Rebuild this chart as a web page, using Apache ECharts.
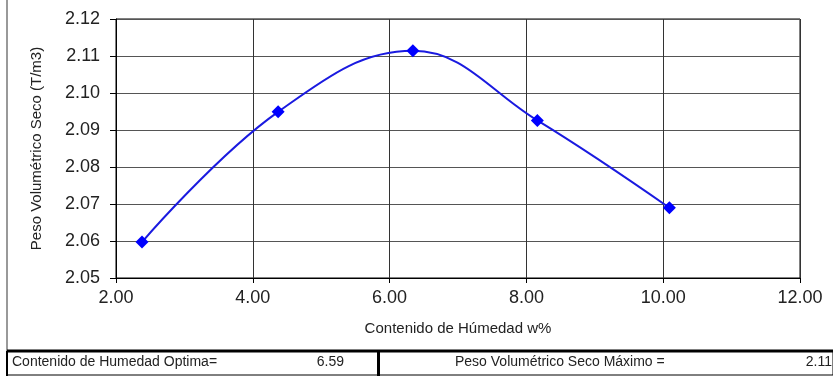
<!DOCTYPE html>
<html>
<head>
<meta charset="utf-8">
<script src="https://cdn.jsdelivr.net/npm/echarts@6/dist/echarts.min.js"></script>
<style>
html,body{margin:0;padding:0;background:#fff;}
#chart{width:833px;height:376px;}
</style>
</head>
<body>
<div id="chart"></div>
<script>
// Data
var humedad = [2.38, 4.37, 6.34, 8.16, 10.09];
var pesoSeco = [2.0597, 2.0949, 2.1114, 2.0926, 2.0690];
var xTicks = [2, 4, 6, 8, 10, 12];
var yTicks = [2.05, 2.06, 2.07, 2.08, 2.09, 2.10, 2.11, 2.12];
var tableLabels = ['Contenido de Humedad Optima=', 'Peso Volumétrico Seco Máximo ='];
var tableValues = ['6.59', '2.11'];

var FONT = '"Liberation Sans", Arial, sans-serif';
var chart = echarts.init(document.getElementById('chart'), null, {renderer: 'canvas'});

var points = humedad.map(function (x, i) { return [x, pesoSeco[i]]; });

chart.setOption({
  animation: false,
  backgroundColor: '#fff',
  grid: {left: 116, right: 33, top: 19, bottom: 98, show: true, borderColor: '#000', borderWidth: 1},
  xAxis: {
    type: 'value',
    min: xTicks[0], max: xTicks[xTicks.length - 1], interval: 2,
    name: 'Contenido de Húmedad w%',
    nameLocation: 'middle', nameGap: 43,
    nameTextStyle: {fontFamily: FONT, fontSize: 15, color: '#222'},
    axisLine: {show: true, lineStyle: {color: '#000', width: 1}},
    axisTick: {show: true, length: 5, lineStyle: {color: '#000'}},
    axisLabel: {fontFamily: FONT, fontSize: 18, color: '#222', margin: 11,
      formatter: function (v) { return v.toFixed(2); }},
    splitLine: {show: true, lineStyle: {color: '#333', width: 1}}
  },
  yAxis: {
    type: 'value',
    min: yTicks[0], max: yTicks[yTicks.length - 1], interval: 0.01,
    name: 'Peso Volumétrico Seco (T/m3)',
    nameLocation: 'middle', nameGap: 72,
    nameTextStyle: {fontFamily: FONT, fontSize: 15, color: '#222'},
    axisLine: {show: true, lineStyle: {color: '#000', width: 1}},
    axisTick: {show: true, length: 6, lineStyle: {color: '#000'}},
    axisLabel: {fontFamily: FONT, fontSize: 18, color: '#222', margin: 16,
      formatter: function (v) { return v.toFixed(2); }},
    splitLine: {show: true, lineStyle: {color: '#555', width: 1}}
  },
  series: [{
    type: 'line',
    data: points,
    smooth: 0.4,
    symbol: 'diamond',
    symbolSize: 13,
    lineStyle: {color: '#1a1ae0', width: 2},
    itemStyle: {color: '#0000ff'}
  }],
  graphic: [
    {type: 'line', shape: {x1: 7, y1: 0, x2: 7, y2: 351}, style: {stroke: '#999', lineWidth: 2}},
    {type: 'rect', shape: {x: 7, y: 351, width: 826, height: 24}, style: {fill: '#fff', stroke: '#000', lineWidth: 1}},
    {type: 'line', shape: {x1: 7, y1: 351, x2: 833, y2: 351}, style: {stroke: '#000', lineWidth: 3}},
    {type: 'line', shape: {x1: 378.5, y1: 351, x2: 378.5, y2: 376}, style: {stroke: '#000', lineWidth: 3}},
    {type: 'line', shape: {x1: 7, y1: 351, x2: 7, y2: 376}, style: {stroke: '#000', lineWidth: 2}},
    {type: 'text', x: 12, y: 362, style: {text: tableLabels[0], font: '14px ' + FONT, fill: '#222', textVerticalAlign: 'middle'}},
    {type: 'text', x: 344, y: 362, style: {text: tableValues[0], font: '14px ' + FONT, fill: '#222', textAlign: 'right', textVerticalAlign: 'middle'}},
    {type: 'text', x: 455, y: 362, style: {text: tableLabels[1], font: '14px ' + FONT, fill: '#222', textVerticalAlign: 'middle'}},
    {type: 'text', x: 832, y: 362, style: {text: tableValues[1], font: '14px ' + FONT, fill: '#222', textAlign: 'right', textVerticalAlign: 'middle'}}
  ]
});
</script>
</body>
</html>
